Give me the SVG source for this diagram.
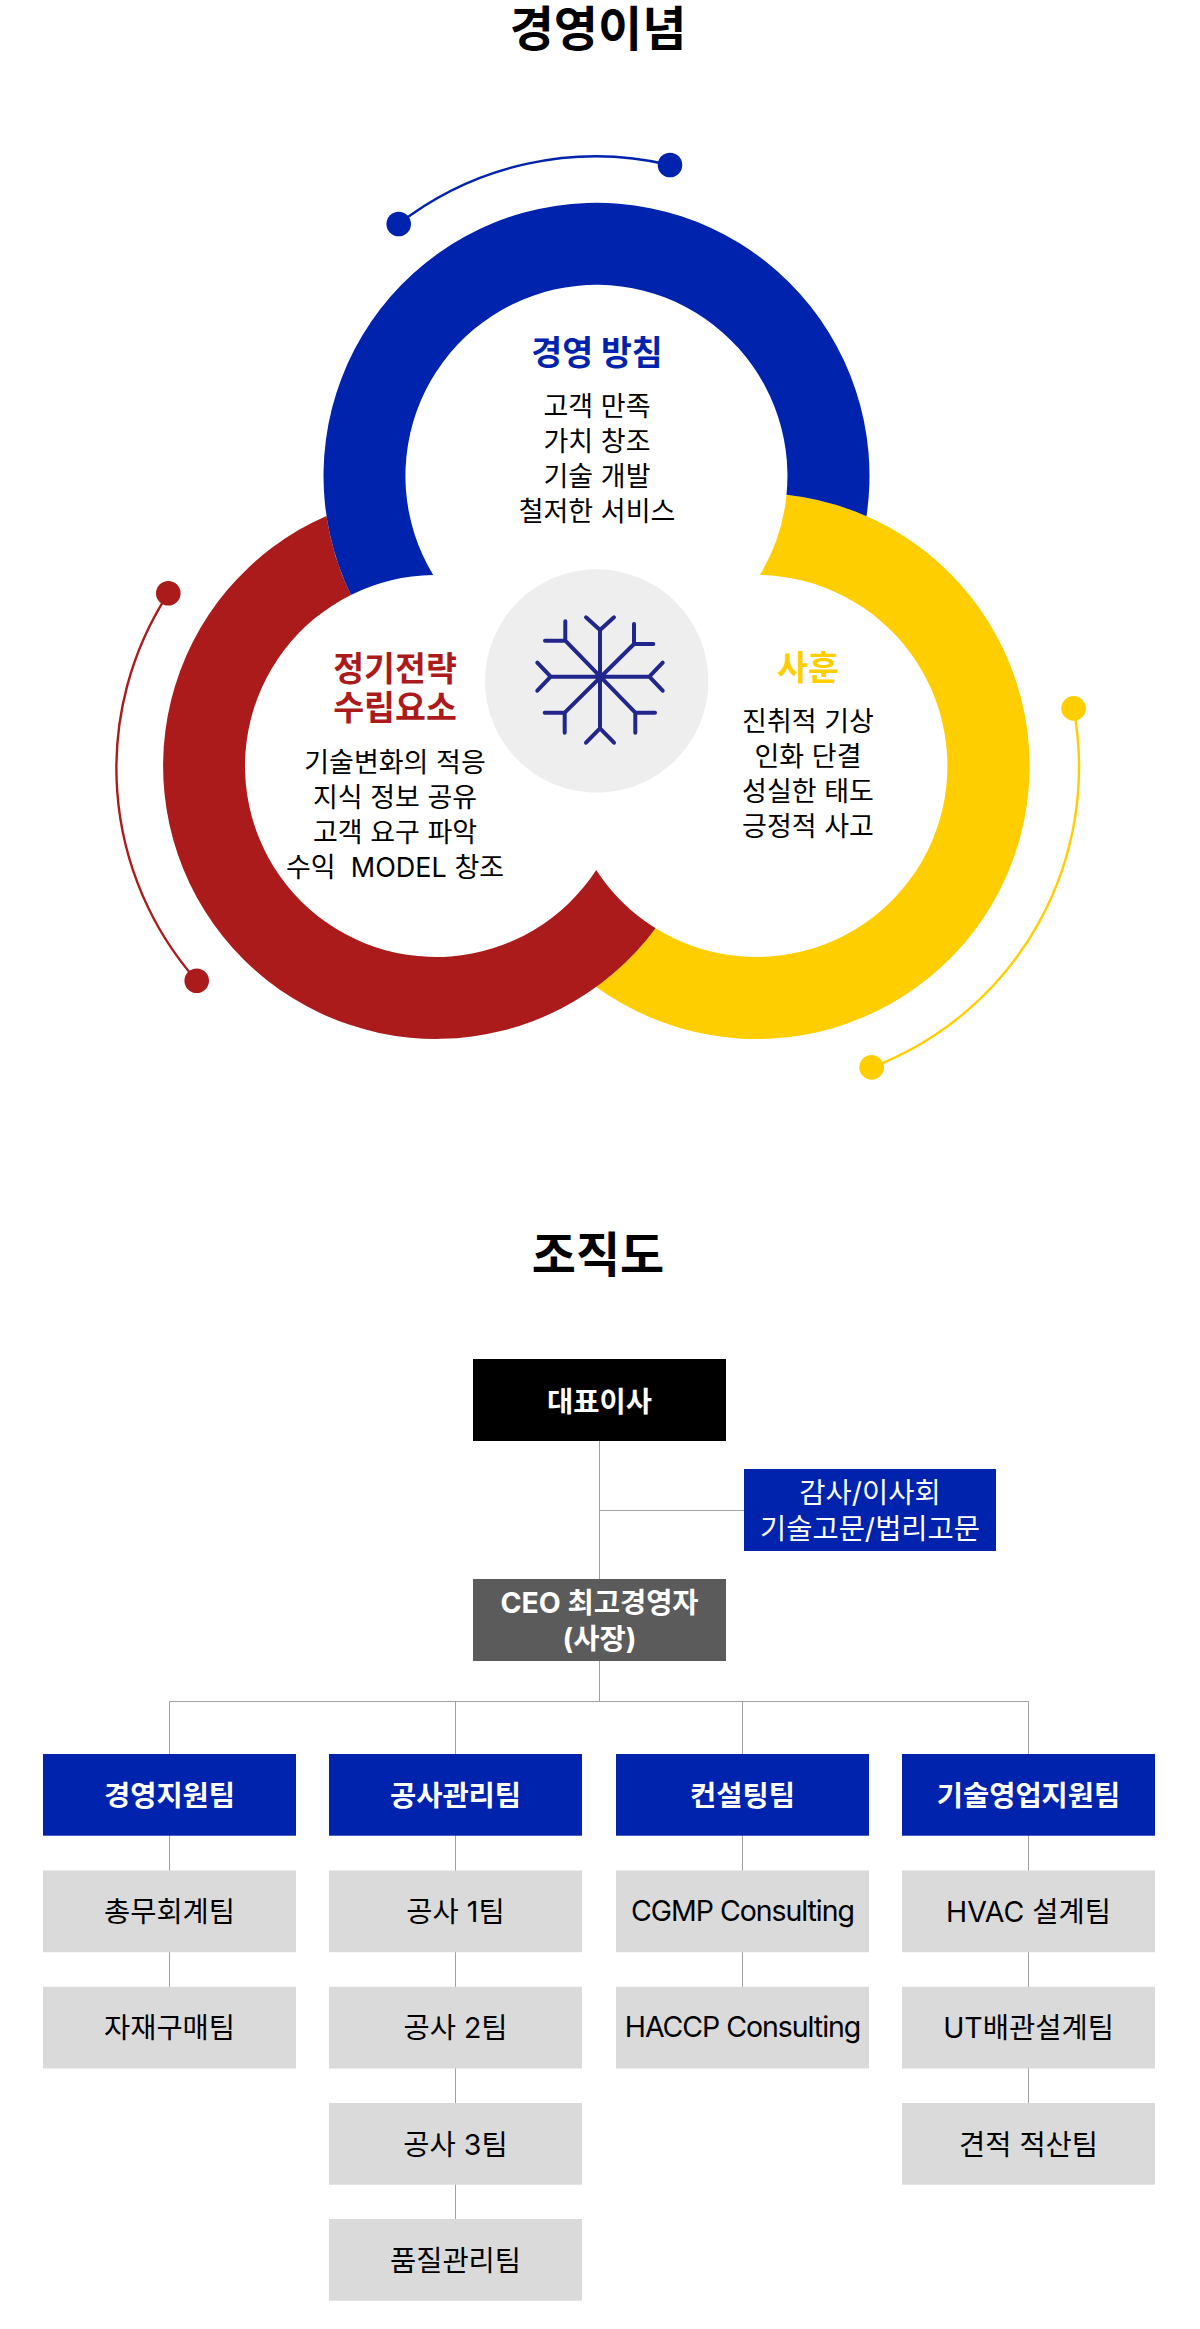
<svg xmlns="http://www.w3.org/2000/svg" width="1200" height="2329" viewBox="0 0 1200 2329">
<style>
text{font-family:"Inter","Noto Sans CJK KR","Noto Sans",sans-serif;text-anchor:middle}
.h{font-size:48px;font-weight:700;fill:#000}
.t{font-size:33.6px;font-weight:700}
.b{font-size:27px;font-weight:400;fill:#000}
.hd{font-size:28.5px;font-weight:700;fill:#fff}
.wt{font-size:28.5px;font-weight:400;fill:#fff}
.gt{font-size:28.5px;font-weight:400;fill:#000}
.tight{letter-spacing:-1.05px}
.arc{fill:none;stroke-width:2.4}
.con{fill:none;stroke:#a0a0a0;stroke-width:1}
.blue{fill:#0023ad}.red{fill:#ab1b1b}.yel{fill:#ffce00}
.gr{fill:#dadada}
.snow{fill:none;stroke:#20268c;stroke-width:4;stroke-linecap:round;stroke-linejoin:round}
</style>
<text class="h" x="598" y="46">경영이념</text>
<g id="ring-yellow">
<path class="yel" d="M596.25 987A273 273 0 1 0 786.5 494.7A191 191 0 0 1 759.9 575A191 191 0 1 1 655.6 928.2A273 273 0 0 1 596.25 987Z"/>
<path d="M1073.6 708.4A321 321 0 0 1 871.6 1067.4" class="arc" stroke="#ffce00"/>
<circle class="yel" cx="1073.6" cy="708.4" r="12.3"/><circle class="yel" cx="871.6" cy="1067.4" r="12.3"/>
<text class="t yel" x="808" y="680">사훈</text>
<text class="b" x="808" y="731">진취적 기상</text><text class="b" x="808" y="766">인화 단결</text><text class="b" x="808" y="801">성실한 태도</text><text class="b" x="808" y="836">긍정적 사고</text>
</g>
<g id="ring-red">
<path class="red" d="M326.4 515.9A273 273 0 1 0 655.6 928.2A191 191 0 0 1 596.25 869.9A191 191 0 1 1 350.9 595A273 273 0 0 1 326.4 515.9Z"/>
<path d="M168.3 593.3A321 321 0 0 0 196.7 980.7" class="arc" stroke="#ab1b1b"/>
<circle class="red" cx="168.3" cy="593.3" r="12.3"/><circle class="red" cx="196.7" cy="980.7" r="12.3"/>
<text class="t red" x="395" y="681">정기전략</text><text class="t red" x="395" y="720">수립요소</text>
<text class="b" x="395" y="772">기술변화의 적응</text><text class="b" x="395" y="807">지식 정보 공유</text><text class="b" x="395" y="842">고객 요구 파악</text><text class="b" x="395" y="877" xml:space="preserve">수익  MODEL 창조</text>
</g>
<g id="ring-blue">
<path class="blue" d="M866.5 516.2A273 273 0 1 0 350.9 595A191 191 0 0 1 433.2 575A191 191 0 1 1 786.5 494.7A273 273 0 0 1 866.5 516.2Z"/>
<path d="M398.7 224A321 321 0 0 1 670 165" class="arc" stroke="#0023ad"/>
<circle class="blue" cx="398.7" cy="224" r="12.3"/><circle class="blue" cx="670" cy="165" r="12.3"/>
<text class="t blue" x="597" y="365">경영 방침</text>
<text class="b" x="597" y="416">고객 만족</text><text class="b" x="597" y="451">가치 창조</text><text class="b" x="597" y="486">기술 개발</text><text class="b" x="597" y="521">철저한 서비스</text>
</g>
<g id="center">
<circle cx="596.7" cy="681" r="111.7" fill="#eeeeee"/>
<path class="snow" d="M600 630V728.3M586 617.3L600 630L614 617.3M586 742.7L600 728.3L614 742.7M550.7 676.7H649.3M537.3 662.7L550.7 676.7L537.3 690.7M662.7 662.7L649.3 676.7L662.7 690.7M565.3 640.7L635.3 712.7M634 644L564.7 712.7M565.3 621.3V640.7H545M634 624V644H653.3M544.7 712.7H564.7V732.7M655 712.7H635.3V732.7"/>
</g>
<text class="h" x="598" y="1272">조직도</text>
<g id="connectors" class="con">
<path class="con" d="M599.5 1441V1579M599.5 1510.5H744M599.5 1661V1701.5M169.5 1754V1701.5H1028.5V1754M455.5 1701.5V1754M742.5 1701.5V1754M169.5 1835V1871M169.5 1952V1987M455.5 1835V2219M742.5 1835V1987M1028.5 1835V2103"/>
</g>
<g id="ceo-board"><rect x="473" y="1359" width="253" height="82" fill="#000"/><text class="hd" x="599.5" y="1412">대표이사</text></g>
<g id="advisors"><rect x="744" y="1469" width="252" height="82" class="blue"/><text class="wt" x="870" y="1503">감사/이사회</text><text class="wt" x="870" y="1539">기술고문/법리고문</text></g>
<g id="ceo"><rect x="473" y="1579" width="253" height="82" fill="#5b5b5b"/><text class="hd" x="599.5" y="1613">CEO 최고경영자</text><text class="hd" x="599.5" y="1649">(사장)</text></g>
<g id="team1"><rect x="43" y="1754" width="253" height="81.7" class="blue"/><text class="hd" x="169.5" y="1806">경영지원팀</text></g>
<g id="team2"><rect x="329" y="1754" width="253" height="81.7" class="blue"/><text class="hd" x="455.5" y="1806">공사관리팀</text></g>
<g id="team3"><rect x="616" y="1754" width="253" height="81.7" class="blue"/><text class="hd" x="742.5" y="1806">컨설팅팀</text></g>
<g id="team4"><rect x="902" y="1754" width="253" height="81.7" class="blue"/><text class="hd" x="1028.5" y="1806">기술영업지원팀</text></g>
<g id="t1a"><rect x="43" y="1870.5" width="253" height="81.7" class="gr"/><text class="gt" x="169.5" y="1922">총무회계팀</text></g>
<g id="t1b"><rect x="43" y="1986.8" width="253" height="81.7" class="gr"/><text class="gt" x="169.5" y="2038">자재구매팀</text></g>
<g id="t2a"><rect x="329" y="1870.5" width="253" height="81.7" class="gr"/><text class="gt" x="455.5" y="1922">공사 1팀</text></g>
<g id="t2b"><rect x="329" y="1986.8" width="253" height="81.7" class="gr"/><text class="gt" x="455.5" y="2038">공사 2팀</text></g>
<g id="t2c"><rect x="329" y="2103" width="253" height="81.7" class="gr"/><text class="gt" x="455.5" y="2155">공사 3팀</text></g>
<g id="t2d"><rect x="329" y="2219" width="253" height="81.7" class="gr"/><text class="gt" x="455.5" y="2271">품질관리팀</text></g>
<g id="t3a"><rect x="616" y="1870.5" width="253" height="81.7" class="gr"/><text class="gt tight" x="742.5" y="1921">CGMP Consulting</text></g>
<g id="t3b"><rect x="616" y="1986.8" width="253" height="81.7" class="gr"/><text class="gt tight" x="742.5" y="2037">HACCP Consulting</text></g>
<g id="t4a"><rect x="902" y="1870.5" width="253" height="81.7" class="gr"/><text class="gt" x="1028.5" y="1922">HVAC 설계팀</text></g>
<g id="t4b"><rect x="902" y="1986.8" width="253" height="81.7" class="gr"/><text class="gt" x="1028.5" y="2038">UT배관설계팀</text></g>
<g id="t4c"><rect x="902" y="2103" width="253" height="81.7" class="gr"/><text class="gt" x="1028.5" y="2155">견적 적산팀</text></g>
</svg>
